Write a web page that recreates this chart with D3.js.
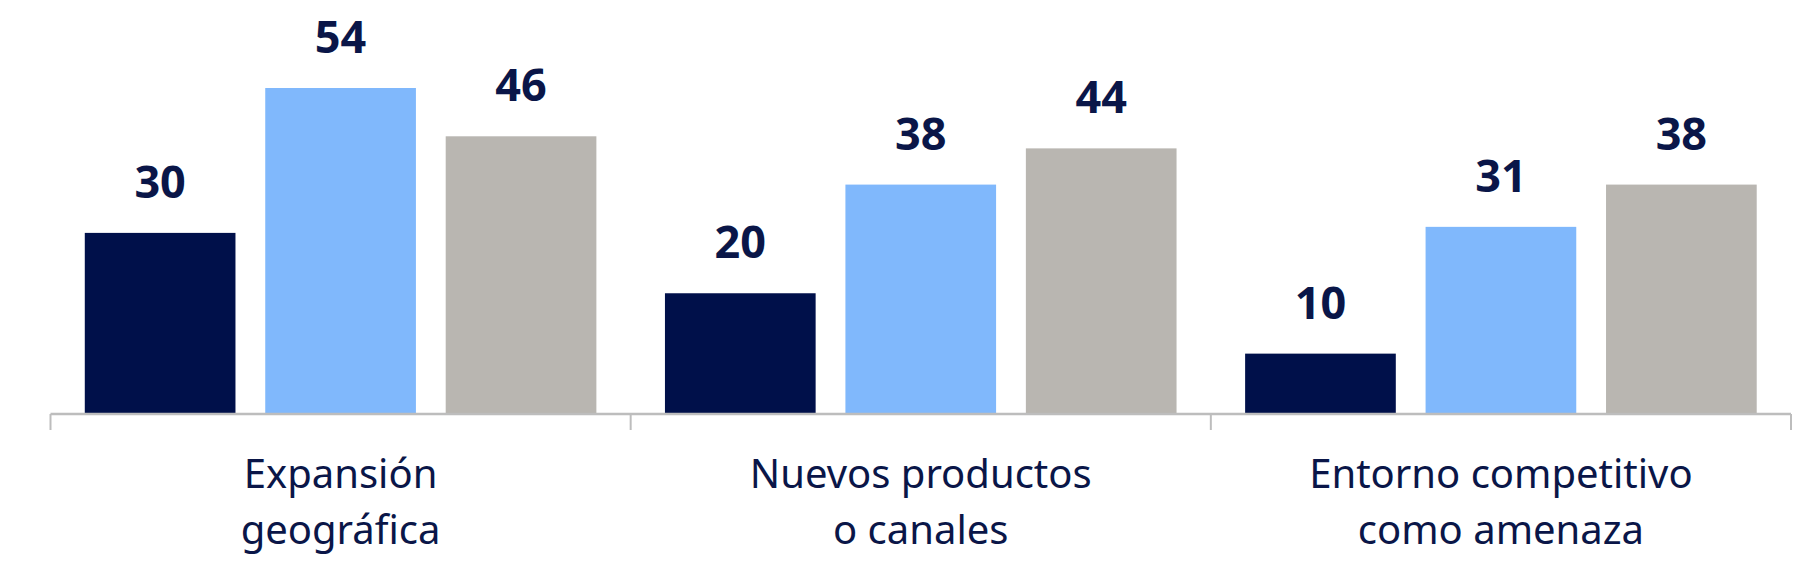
<!DOCTYPE html><html><head><meta charset="utf-8"><script src="https://d3js.org/d3.v7.min.js"></script>
<style>body{margin:0;background:#fff}</style></head><body><svg id="c" width="1815" height="580"></svg>
<script>
const categories=[["Expansión","geográfica"],["Nuevos productos","o canales"],["Entorno competitivo","como amenaza"]];
const series=["A","B","C"];
const values=[[30,54,46],[20,38,44],[10,31,38]];
const colors=["#00104a","#80b8fc","#b9b6b1"];
const svg=d3.select("#c");
const x0=d3.scaleBand().domain(d3.range(3)).range([50.5,1791]).paddingInner(0).paddingOuter(0);
const x1=d3.scaleBand().domain(series).range([0,x0.bandwidth()]).paddingInner(0.165).paddingOuter(0.19);
const y=d3.scaleLinear().domain([0,54]).range([414,88]);
const g=svg.selectAll("g.grp").data(values).join("g").attr("transform",(d,i)=>`translate(${x0(i)},0)`);
g.selectAll("rect").data(d=>d).join("rect").attr("x",(d,j)=>x1(series[j])).attr("width",x1.bandwidth())
 .attr("y",d=>y(d)).attr("height",d=>414-y(d)).attr("fill",(d,j)=>colors[j]);
g.selectAll("text").data(d=>d).join("text").attr("x",(d,j)=>x1(series[j])+x1.bandwidth()/2).attr("y",d=>y(d)-35)
 .attr("text-anchor","middle").attr("font-family","Noto Sans").attr("font-weight","bold").attr("font-size",45).attr("fill","#0a1648").text(d=>d);
svg.append("line").attr("x1",50.5).attr("x2",1791).attr("y1",414).attr("y2",414).attr("stroke","#bdbdbd").attr("stroke-width",2.5);
[0,1,2,3].forEach(i=>{const xx=i<3?x0(i):1791;svg.append("line").attr("x1",xx).attr("x2",xx).attr("y1",414).attr("y2",430).attr("stroke","#bdbdbd").attr("stroke-width",2);});
categories.forEach((c,i)=>{c.forEach((t,k)=>svg.append("text").attr("x",x0(i)+x0.bandwidth()/2).attr("y",488+k*56).attr("text-anchor","middle")
 .attr("font-family","Noto Sans").attr("font-size",40).attr("fill","#0a1648").text(t));});
</script></body></html>
